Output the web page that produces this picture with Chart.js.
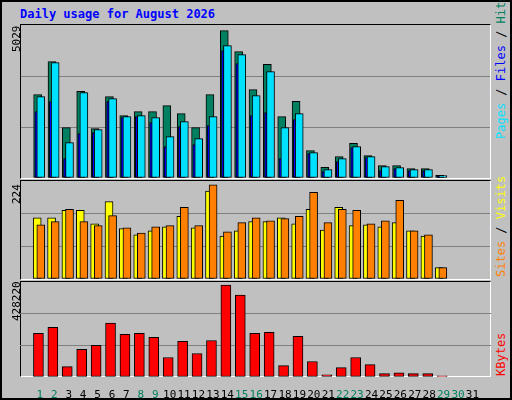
<!DOCTYPE html>
<html><head><meta charset="utf-8">
<script src="https://cdn.jsdelivr.net/npm/chart.js@4/dist/chart.umd.min.js"></script>
<style>
body{margin:0;width:512px;height:400px;overflow:hidden;background:#fff;font-family:"DejaVu Sans Mono",monospace}
#frame{position:absolute;left:0;top:0;width:508px;height:396px;background:#C0C0C0;border:2px solid #000}
.pan{position:absolute;left:20px;width:471px;border-left:1px solid #000;border-top:1px solid #000;border-right:1px solid #fff;border-bottom:1px solid #fff;box-sizing:border-box}
.t{position:absolute;font-size:12px;white-space:nowrap}
.rot{position:absolute;transform-origin:0 0;transform:rotate(-90deg);font-size:12px;white-space:nowrap}
</style></head><body>
<div id="frame"></div>
<div class="t" style="left:20px;top:7px;color:#0000FF;font-weight:bold">Daily usage for August 2026</div>
<div class="pan" style="top:24px;height:155px"><canvas id="c1"></canvas></div>
<div class="pan" style="top:180px;height:100px"><canvas id="c2"></canvas></div>
<div class="pan" style="top:281px;height:96px"></div>
<div style="position:absolute;left:20px;top:281px;width:471px;height:118px"><canvas id="c3"></canvas></div>
<div class="rot" style="left:10px;top:52px;color:#000;font-size:11px">5029</div>
<div class="rot" style="left:10px;top:204px;color:#000;font-size:11px">224</div>
<div class="rot" style="left:10px;top:321px;color:#000;font-size:11px">428220</div>
<div class="rot" style="left:494px;top:139px"><span style="color:#00E0FF">Pages</span><span style="color:#000"> / </span><span style="color:#0000FF">Files</span><span style="color:#000"> / </span><span style="color:#008060">Hits</span></div>
<div class="rot" style="left:494px;top:277px"><span style="color:#FF8000">Sites</span><span style="color:#000"> / </span><span style="color:#FFFF00">Visits</span></div>
<div class="rot" style="left:494px;top:376px;color:#FF0000">KBytes</div>
<script>
const days=[...Array(31)].map((_,i)=>i+1);
const hits=[2740,3825,1655,2850,1622,2674,2050,2181,2181,2378,2115,1655,2740,4844,4154,2904,3737,2017,2521,899,351,701,1140,734,405,405,307,307,88,0,0];
const files=[2674,3792,1162,2806,1589,2608,2017,2050,1984,1359,1852,1293,2017,4351,4055,2707,3496,1655,2115,833,274,636,1030,701,373,340,274,274,77,0,0];
const pages=[2181,2510,636,1458,1490,2510,1984,2017,1819,1030,1688,1096,1721,4187,3759,2050,2148,636,1918,800,208,537,997,669,241,307,241,241,55,0,0];
const visits=[140,140,157,157,126,177,115,101,110,119,143,117,201,98,110,131,131,140,126,159,112,164,122,124,119,129,110,98,26,0,0];
const sites=[124,131,159,131,122,145,117,105,119,122,164,122,215,108,129,140,133,138,143,198,129,159,157,126,133,180,110,101,26,0,0];
const kbytes=[195000,222000,46000,123000,141000,240000,190000,195000,177000,87000,159000,105000,163000,410000,365000,195000,199000,51000,181000,69000,10000,42000,87000,55000,15000,19000,15000,15000,5000,0,0];
const maxTop=5029,maxMid=224,maxBot=428220;
const weekend=[1,2,8,9,15,16,22,23,29,30];
const XMIN=0.148,XMAX=31.76;
function ds(vals,off,color,w,ord){return{data:vals.map((v,i)=>({x:days[i]+off,y:v})),backgroundColor:color,borderColor:'#000',borderWidth:1,barThickness:w,borderSkipped:false,grouped:false,order:ord}}
function opts(max,showX){return{responsive:true,maintainAspectRatio:false,animation:false,
 layout:{padding:0},plugins:{legend:{display:false},tooltip:{enabled:false}},
 scales:{x:{type:'linear',min:XMIN,max:XMAX,display:showX,grid:{display:false},border:{display:false},
   afterBuildTicks:s=>{s.ticks=days.map(v=>({value:v}))},
   afterFit:s=>{if(showX)s.height=22},
   ticks:{autoSkip:false,maxRotation:0,padding:4,font:{family:'DejaVu Sans Mono',size:11},color:c=>weekend.includes(c.tick.value)?'#008060':'#000',callback:v=>String(v)}},
  y:{min:0,max:max,display:true,border:{display:false},ticks:{display:false},
   afterBuildTicks:s=>{s.ticks=[{value:0},{value:max/3},{value:2*max/3},{value:max}]},
   afterFit:s=>{s.width=0},
   grid:{drawTicks:false,color:c=>(c.index==1||c.index==2)?'#808080':'rgba(0,0,0,0)',lineWidth:1}}}}}
Chart.defaults.font.family='DejaVu Sans Mono';
new Chart(c1,{type:'bar',data:{datasets:[ds(hits,-0.22,'#008060',8,3),ds(files,0,'#00E0FF',8,1),ds(pages,-0.31,'#0000FF',3,2)]},options:opts(maxTop,false)});
new Chart(c2,{type:'bar',data:{datasets:[ds(visits,-0.25,'#FFFF00',8,2),ds(sites,0,'#FF8000',8,1)]},options:opts(maxMid,false)});
new Chart(c3,{type:'bar',data:{datasets:[ds(kbytes,-0.1,'#FF0000',10,1)]},options:opts(maxBot,true)});
</script></body></html>
